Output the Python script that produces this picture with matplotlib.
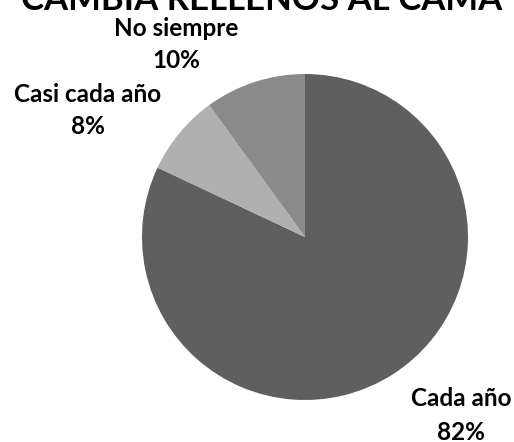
import matplotlib
matplotlib.use("Agg")
import matplotlib.pyplot as plt

categories = ["Cada año", "Casi cada año", "No siempre"]
values = [82, 8, 10]
colors = ["#5f5f5f", "#b0b0b0", "#8a8a8a"]
title = "CAMBIA RELLENOS AL CAMA"

W, H = 514, 442
fig = plt.figure(figsize=(W / 100, H / 100), dpi=100)
ax = fig.add_axes([0, 0, 1, 1])

cx, cy, r = 305, H - 237, 163
wedges, _ = ax.pie(values, colors=colors, startangle=90, counterclock=False,
                   center=(cx, cy), radius=r, frame=True,
                   wedgeprops=dict(linewidth=0))
ax.set_xlim(0, W)
ax.set_ylim(0, H)
ax.set_aspect("equal")
ax.axis("off")

font = dict(family=["Lato", "DejaVu Sans"], fontweight="bold", color="black")
label_pos = {"Cada año": (461, 399), "Casi cada año": (88, 94), "No siempre": (176, 28)}
for cat, val in zip(categories, values):
    x, y = label_pos[cat]
    ax.text(x, H - y, cat, ha="center", va="center", fontsize=17.5, **font)
    ax.text(x, H - y - 33, f"{val}%", ha="center", va="center", fontsize=17.5, **font)

ax.text(262, H - 10, title, ha="center", va="baseline", fontsize=25, **font)

fig.savefig("out.png", dpi=100)
